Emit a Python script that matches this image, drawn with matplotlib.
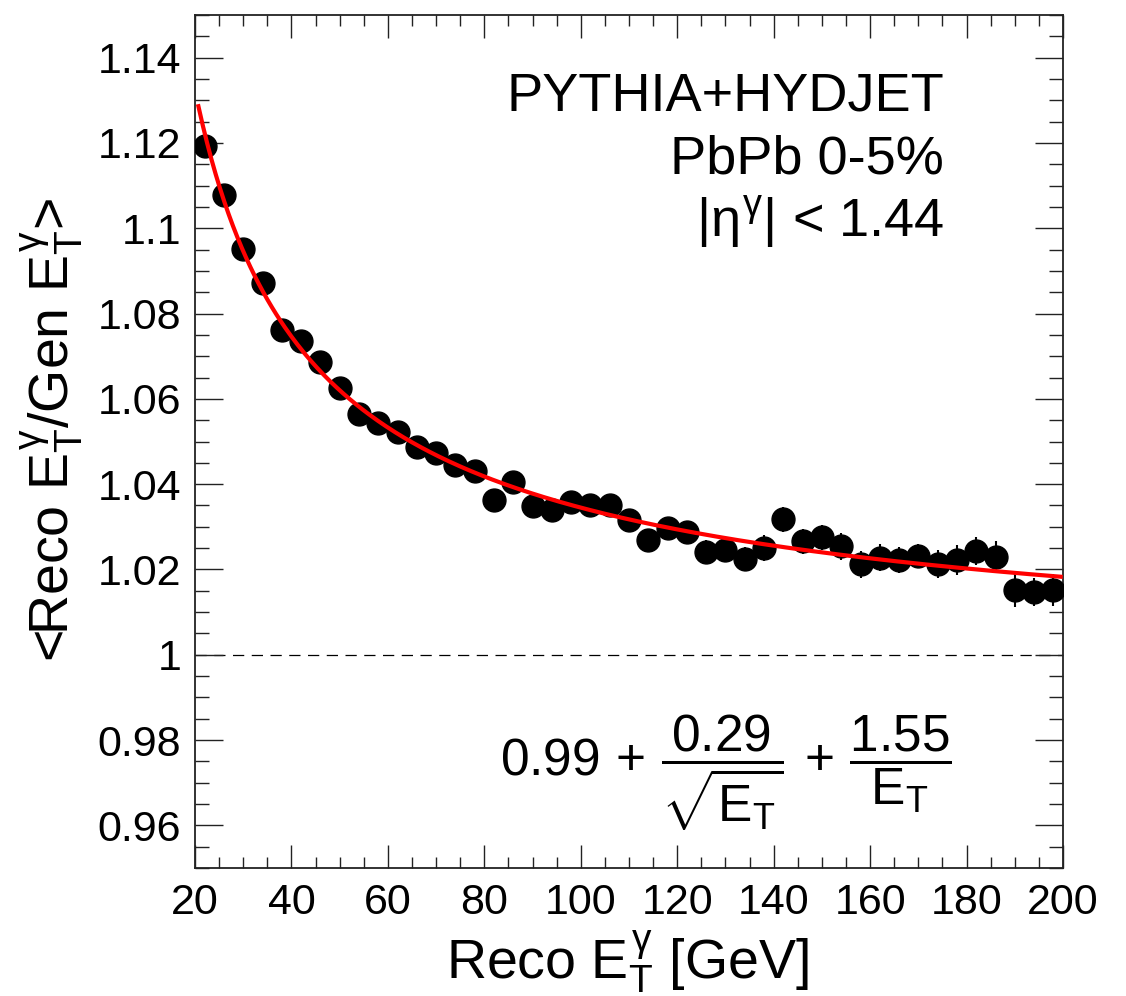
import numpy as np
import matplotlib
matplotlib.use('Agg')
import matplotlib.pyplot as plt
from matplotlib.ticker import MultipleLocator, FuncFormatter

# Helvetica-like look (ROOT style)
plt.rcParams['font.family'] = ['Liberation Sans', 'DejaVu Sans']
plt.rcParams['mathtext.fontset'] = 'custom'
plt.rcParams['mathtext.rm'] = 'Liberation Sans'
plt.rcParams['mathtext.it'] = 'Liberation Sans'
plt.rcParams['mathtext.sf'] = 'Liberation Sans'
plt.rcParams['mathtext.bf'] = 'Liberation Sans:bold'

# Data (bin centres in GeV)
et_centres = [22, 26, 30, 34, 38, 42, 46, 50, 54, 58, 62, 66, 70, 74, 78,
              82, 86, 90, 94, 98, 102, 106, 110, 114, 118, 122, 126, 130, 134, 138,
              142, 146, 150, 154, 158, 162, 166, 170, 174, 178, 182, 186, 190, 194, 198]
ratio = [1.1193, 1.1079, 1.0951, 1.0872, 1.0761, 1.0736, 1.0686, 1.0625, 1.0565, 1.0543,
         1.0523, 1.0486, 1.0472, 1.0445, 1.0430, 1.0364, 1.0404, 1.0349, 1.0340, 1.0358,
         1.0350, 1.0350, 1.0317, 1.0268, 1.0297, 1.0289, 1.0242, 1.0245, 1.0224, 1.0251,
         1.0318, 1.0266, 1.0275, 1.0254, 1.0212, 1.0228, 1.0222, 1.0232, 1.0213, 1.0222,
         1.0244, 1.0230, 1.0153, 1.0148, 1.0152]
ratio_err = [0.0008, 0.0008, 0.0009, 0.0009, 0.0010, 0.0010, 0.0011, 0.0011, 0.0012, 0.0012,
             0.0013, 0.0013, 0.0014, 0.0015, 0.0015, 0.0016, 0.0017, 0.0018, 0.0019, 0.0020,
             0.0020, 0.0021, 0.0022, 0.0023, 0.0024, 0.0025, 0.0026, 0.0027, 0.0028, 0.0030,
             0.0029, 0.0030, 0.0030, 0.0031, 0.0031, 0.0032, 0.0030, 0.0028, 0.0032, 0.0035,
             0.0033, 0.0037, 0.0042, 0.0033, 0.0038]

# Fit parameters shown on the plot: p0 + p1/sqrt(E) + p2/E
fit_p0 = 0.99
fit_p1 = 0.29
fit_p2 = 1.55
fit_range = (20.7, 199.5)

fig = plt.figure(figsize=(11.26, 9.96), dpi=100)
ax = fig.add_axes([0.1732, 0.1285, 0.7709, 0.8564])

# reference line at 1
ax.axhline(1.0, color='black', lw=0.9, ls=(0, (9, 6)), zorder=1)

# data points
ax.errorbar(et_centres, ratio, yerr=ratio_err, fmt='o', color='black',
            ms=16.5, elinewidth=1.5, capsize=0, zorder=3)

# fit curve
xf = np.linspace(fit_range[0], fit_range[1], 400)
yf = fit_p0 + fit_p1 / np.sqrt(xf) + fit_p2 / xf
ax.plot(xf, yf, color='red', lw=3, zorder=4)

ax.set_xlim(20, 200)
ax.set_ylim(0.95, 1.15)

ax.xaxis.set_major_locator(MultipleLocator(20))
ax.xaxis.set_minor_locator(MultipleLocator(5))
ax.yaxis.set_major_locator(MultipleLocator(0.02))
ax.yaxis.set_minor_locator(MultipleLocator(0.005))
ax.yaxis.set_major_formatter(FuncFormatter(lambda v, p: '%g' % round(v, 4)))

ax.tick_params(axis='both', which='both', direction='in', top=True, right=True,
               width=1.0, colors='#222222', labelcolor='black', labelsize=31)
ax.tick_params(axis='y', which='major', length=20, pad=10)
ax.tick_params(axis='y', which='minor', length=10)
ax.tick_params(axis='x', which='major', length=16.5, pad=11)
ax.tick_params(axis='x', which='minor', length=8)
for s in ax.spines.values():
    s.set_linewidth(1.3)
    s.set_color('#222222')

# labels
fig.text(627 / 1126, 1 - 979 / 996, r'Reco $E_{T}^{\gamma}$ [GeV]', fontsize=40,
         ha='center', va='baseline')
fig.text(52 / 1126, 1 - 430 / 996, r'<Reco $E_{T}^{\gamma}$/Gen $E_{T}^{\gamma}$>',
         fontsize=40, ha='center', va='center', rotation=90)

# annotations
ax.text(0.863, 0.8886, 'PYTHIA+HYDJET', transform=ax.transAxes, fontsize=39,
        ha='right', va='baseline')
ax.text(0.863, 0.8148, 'PbPb 0-5%', transform=ax.transAxes, fontsize=39,
        ha='right', va='baseline')
ax.text(0.863, 0.7397, r'$|\eta^{\gamma}|$ < 1.44', transform=ax.transAxes, fontsize=39,
        ha='right', va='baseline')
ax.text(0.872, 0.112,
        r'$0.99\,+\,\dfrac{0.29}{\sqrt{E_{T}}}\,+\,\dfrac{1.55}{E_{T}}$',
        transform=ax.transAxes, fontsize=37, ha='right', va='center')

fig.savefig('out.png', dpi=100)
